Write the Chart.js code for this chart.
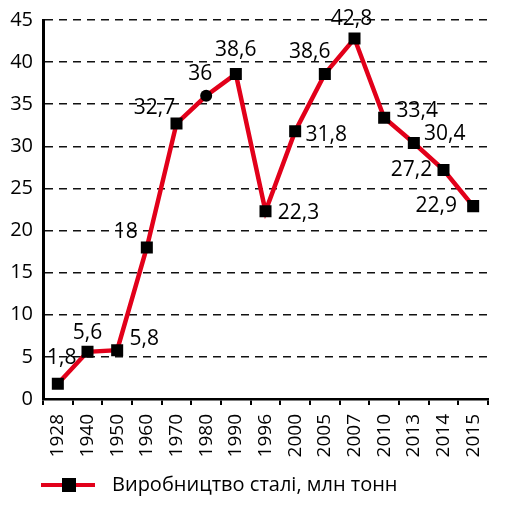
<!DOCTYPE html>
<html>
<head>
<meta charset="utf-8">
<script src="https://cdn.jsdelivr.net/npm/chart.js@4/dist/chart.umd.min.js"></script>
<style>
  body { margin: 0; background: #fff; }
  canvas { display: block; }
</style>
</head>
<body>
<canvas id="steelChart" width="513" height="507"></canvas>
<script>
// data
const years = ['1928', '1940', '1950', '1960', '1970', '1980', '1990', '1996', '2000', '2005', '2007', '2010', '2013', '2014', '2015'];
const steel = [1.8, 5.6, 5.8, 18, 32.7, 36, 38.6, 22.3, 31.8, 38.6, 42.8, 33.4, 30.4, 27.2, 22.9];
const seriesName = 'Виробництво сталі, млн тонн';

// where each value label sits relative to its point (px)
const labelOffsets = [
  [4, -26], [0, -19], [27, -11], [-21, -15], [-22, -16], [-6, -22], [0, -24],
  [33, 2], [31, 4], [-15, -22], [-3, -20], [33, -7], [31, -9], [-32, 0], [-37, 0]
];

const RED = '#e2001a';
const FONT = '"Open Sans", "Noto Sans", sans-serif';

const valueLabels = {
  id: 'valueLabels',
  afterDatasetsDraw(chart) {
    const ctx = chart.ctx;
    const meta = chart.getDatasetMeta(0);
    ctx.save();
    ctx.font = '21px ' + FONT;
    ctx.fillStyle = '#000';
    ctx.textAlign = 'center';
    ctx.textBaseline = 'middle';
    meta.data.forEach(function (pt, i) {
      const txt = String(steel[i]).replace('.', ',');
      ctx.fillText(txt, pt.x + labelOffsets[i][0], pt.y + labelOffsets[i][1]);
    });
    ctx.restore();
  }
};

const bottomLegend = {
  id: 'bottomLegend',
  afterDraw(chart) {
    const ctx = chart.ctx;
    const y = 485;
    ctx.save();
    ctx.strokeStyle = RED;
    ctx.lineWidth = 4;
    ctx.beginPath();
    ctx.moveTo(41, y);
    ctx.lineTo(95, y);
    ctx.stroke();
    ctx.fillStyle = '#000';
    ctx.fillRect(62, y - 7, 14, 14);
    ctx.font = '20px ' + FONT;
    ctx.textAlign = 'left';
    ctx.textBaseline = 'middle';
    ctx.fillText(chart.data.datasets[0].label, 112, y);
    ctx.restore();
  }
};

var ctx = document.getElementById('steelChart');

var SteelChart = new Chart(ctx, {
  type: 'line',
  data: {
    labels: years,
    datasets: [
      {
        label: seriesName,
        data: steel,
        borderColor: RED,
        borderWidth: 4.5,
        backgroundColor: '#000',
        pointBackgroundColor: '#000',
        pointBorderWidth: 0,
        pointStyle: steel.map((v, i) => (i === 5 ? 'circle' : 'rect')),
        pointRadius: steel.map((v, i) => (i === 5 ? 6 : 8.5)),
        tension: 0,
      },
    ],
  },
  options: {
    responsive: false,
    animation: false,
    events: [],
    layout: { padding: { top: 19, right: 25, left: 0, bottom: 0 } },
    plugins: {
      legend: { display: false },
      tooltip: { enabled: false },
    },
    scales: {
      x: {
        offset: true,
        grid: {
          offset: true,
          drawOnChartArea: false,
          drawTicks: true,
          tickLength: 6,
          color: '#000',
          lineWidth: 2,
        },
        border: { color: '#000', width: 2.5 },
        ticks: {
          minRotation: 90,
          maxRotation: 90,
          padding: 9,
          color: '#000',
          font: { family: FONT, size: 19 },
        },
        afterFit: (s) => { s.height = 108; },
      },
      y: {
        min: 0,
        max: 45,
        ticks: {
          stepSize: 5,
          padding: 10,
          color: '#000',
          font: { family: FONT, size: 20, lineHeight: 1 },
        },
        grid: {
          drawTicks: false,
          color: '#111',
          lineWidth: 1.5,
        },
        border: { color: '#000', width: 3, dash: [8, 6] },
        afterFit: (s) => { s.width = 43; },
      },
    },
  },
  plugins: [valueLabels, bottomLegend],
});
</script>
</body>
</html>
